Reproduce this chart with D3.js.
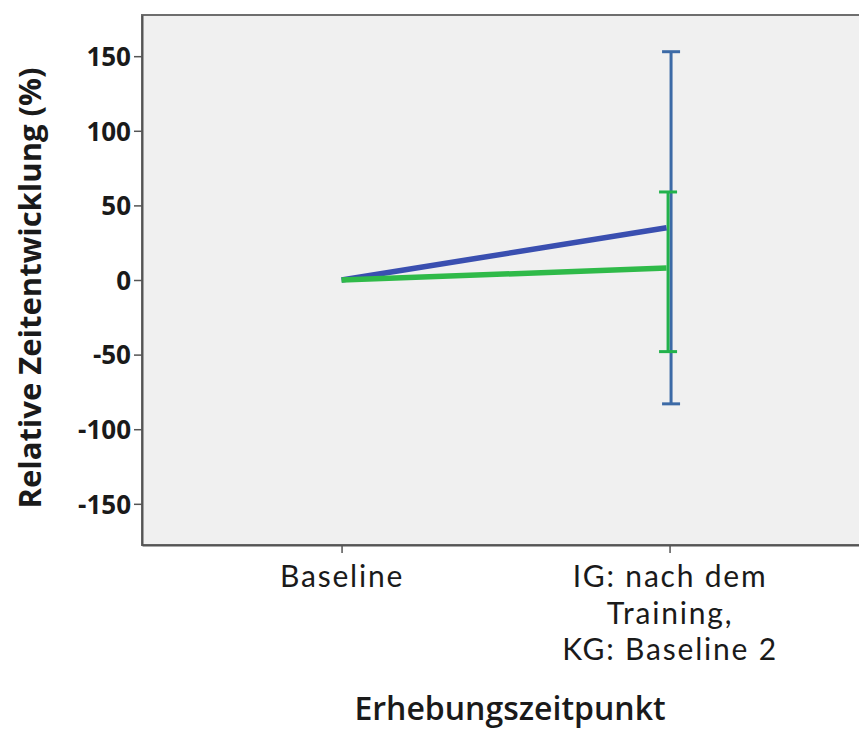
<!DOCTYPE html>
<html><head><meta charset="utf-8">
<script src="https://cdn.jsdelivr.net/npm/d3@7"></script>
<style>body{margin:0;background:#fff}svg{display:block}</style>
</head><body>
<svg id="c" width="859" height="731"></svg>
<script>
const categories = ["Baseline", "IG: nach dem|Training,|KG: Baseline 2"];
const groups = ["IG", "KG"];
const meanIG = [0, 35];
const meanKG = [0, 8];
const ciIG = [[null, null], [-83, 153]];
const ciKG = [[null, null], [-48, 59]];
const yTicks = [-150, -100, -50, 0, 50, 100, 150];

const svg = d3.select("#c");
const m = {l: 142, r: 859, t: 15, b: 545};
const x = d3.scalePoint().domain(categories).range([m.l, m.r]).padding(0.593).align(0.513);
const y = d3.scaleLinear().domain([-177.6, 177.6]).range([m.b, m.t]);

svg.append("rect").attr("x", m.l).attr("y", m.t).attr("width", m.r - m.l + 2).attr("height", m.b - m.t)
  .attr("fill", "#f0f0f0").attr("stroke", "#6e6e6e").attr("stroke-width", 2);

// y axis
const ya = svg.append("g").attr("transform", `translate(${m.l},0)`)
  .call(d3.axisLeft(y).tickValues(yTicks).tickSize(8).tickSizeOuter(0).tickPadding(3).tickFormat(d3.format("d")));
ya.select(".domain").attr("stroke", "#555").attr("stroke-width", 2);
ya.selectAll(".tick line").attr("stroke", "#555").attr("stroke-width", 1.5);
ya.selectAll(".tick text").attr("font-family", "'Open Sans', sans-serif").attr("font-weight", "bold")
  .attr("font-size", 26).attr("fill", "#1a1a1a").attr("dy", "0.36em").text(d => d < 0 ? "-" + Math.abs(d) : d);

// x axis
const xa = svg.append("g").attr("transform", `translate(0,${m.b})`)
  .call(d3.axisBottom(x).tickSize(8).tickSizeOuter(0).tickFormat(""));
xa.select(".domain").attr("stroke", "#555").attr("stroke-width", 2);
xa.selectAll(".tick line").attr("stroke", "#555").attr("stroke-width", 1.5);
xa.selectAll(".tick").each(function(d) {
  const lines = d.split("|");
  lines.forEach((ln, i) => d3.select(this).append("text").attr("text-anchor", "middle")
    .attr("font-family", "Lato, sans-serif").attr("font-size", 30).attr("letter-spacing", 1.8)
    .attr("fill", "#1a1a1a").attr("x", 0).attr("y", 42 + i * 36.5).text(ln));
});

// axis titles
svg.append("text").attr("transform", `translate(41,288) rotate(-90)`).attr("text-anchor", "middle")
  .attr("font-family", "'Open Sans', sans-serif").attr("font-weight", "bold").attr("font-size", 31)
  .attr("fill", "#1a1a1a").text("Relative Zeitentwicklung (%)");
svg.append("text").attr("x", 510).attr("y", 720).attr("text-anchor", "middle")
  .attr("font-family", "'Open Sans', sans-serif").attr("font-weight", "600").attr("font-size", 32)
  .attr("fill", "#1a1a1a").text("Erhebungszeitpunkt");

// error bars
function errBar(ci, color, dx) {
  ci.forEach((c, i) => {
    if (c[0] == null) return;
    const cx = x(categories[i]) + dx;
    const g = svg.append("g").attr("stroke", color).attr("stroke-width", 3);
    g.append("line").attr("x1", cx).attr("x2", cx).attr("y1", y(c[0])).attr("y2", y(c[1]));
    g.append("line").attr("x1", cx - 9).attr("x2", cx + 9).attr("y1", y(c[0])).attr("y2", y(c[0]));
    g.append("line").attr("x1", cx - 9).attr("x2", cx + 9).attr("y1", y(c[1])).attr("y2", y(c[1]));
  });
}
errBar(ciIG, "#3c6aa6", 1.5);
errBar(ciKG, "#22b24c", -1.5);

// mean lines
const line = d3.line().x((d, i) => x(categories[i]) - (i ? 3 : 0)).y(d => y(d));
svg.append("path").datum(meanIG).attr("d", line).attr("fill", "none").attr("stroke", "#3a4fb0").attr("stroke-width", 5.5);
svg.append("path").datum(meanKG).attr("d", line).attr("fill", "none").attr("stroke", "#2fba49").attr("stroke-width", 5.5);
</script>
</body></html>
